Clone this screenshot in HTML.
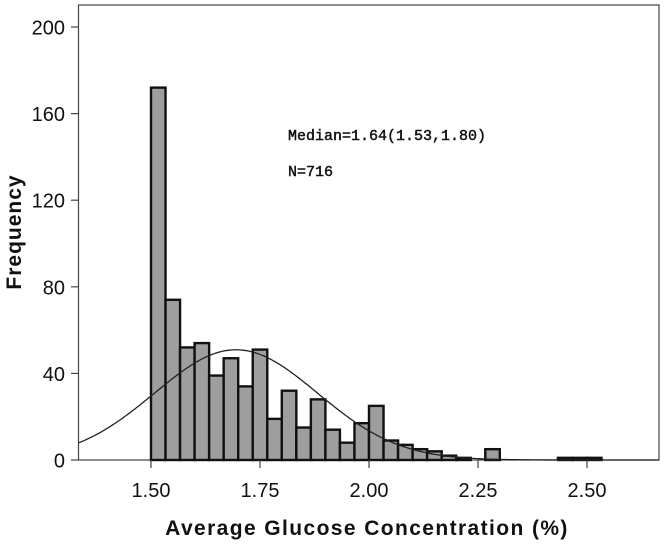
<!DOCTYPE html>
<html><head><meta charset="utf-8"><style>
body{margin:0;background:#fff;}
svg text{font-family:"Liberation Sans",Arial,sans-serif;fill:#111;}
</style></head><body>
<svg id="chart" width="664" height="544">
<rect x="0" y="0" width="664" height="544" fill="#fff"/>
<rect x="78.5" y="5" width="580.5" height="455" fill="#fff" stroke="#444" stroke-width="1.2"/>
<g id="bars"></g>
<path id="curve" fill="none" stroke="#222" stroke-width="1.3"/>
<g id="axes"></g>
<text x="288" y="140" style="font-family:'Liberation Mono',monospace;font-size:15px;stroke:#111;stroke-width:0.45">Median=1.64(1.53,1.80)</text>
<text x="288" y="176" style="font-family:'Liberation Mono',monospace;font-size:15px;stroke:#111;stroke-width:0.45">N=716</text>
<text x="367" y="535" text-anchor="middle" font-weight="bold" font-size="21" letter-spacing="1.4">Average Glucose Concentration (%)</text>
<text transform="translate(21,232) rotate(-90)" text-anchor="middle" font-weight="bold" font-size="21" letter-spacing="1">Frequency</text>
</svg>
<script>
const binStart = 1.5;
const binWidth = 1/30;
const counts = [172,74,52,54,39,47,34,51,19,32,15,28,14,8,17,25,9,7,5,4,2,1,0,5,0,0,0,0,1,1,1];
const yTicks = [0,40,80,120,160,200];
const xTicks = [1.50,1.75,2.00,2.25,2.50];
const xTickLabels = ["1.50","1.75","2.00","2.25","2.50"];
const curveMean = 1.695;
const curveSd = 0.187;
const curveN = 716;

const NS="http://www.w3.org/2000/svg";
function xs(v){return 151+(v-1.5)*436;}
function ys(v){return 460-v*2.165;}
const bars=document.getElementById('bars');
counts.forEach((c,i)=>{
  if(c<=0) return;
  const r=document.createElementNS(NS,'rect');
  const x0=xs(binStart+i*binWidth), x1=xs(binStart+(i+1)*binWidth);
  r.setAttribute('x',x0);r.setAttribute('width',x1-x0);
  r.setAttribute('y',ys(c));r.setAttribute('height',ys(0)-ys(c));
  r.setAttribute('fill','#9e9e9e');r.setAttribute('stroke','#111');r.setAttribute('stroke-width','2.4');
  
  
  bars.appendChild(r);
});
let d='';
for(let px=79;px<=659;px+=2){
  const v=1.5+(px-151)/436;
  const f=curveN*binWidth/(curveSd*Math.sqrt(2*Math.PI))*Math.exp(-0.5*((v-curveMean)/curveSd)**2);
  d+=(d?'L':'M')+px+','+ys(f).toFixed(2);
}
document.getElementById('curve').setAttribute('d',d);
const ax=document.getElementById('axes');
function el(t,a,txt){const e=document.createElementNS(NS,t);for(const k in a)e.setAttribute(k,a[k]);if(txt)e.textContent=txt;ax.appendChild(e);return e;}
yTicks.forEach(v=>{
  const l=el('line',{x1:71,x2:78.5,y1:ys(v),y2:ys(v),stroke:'#444','stroke-width':1.2});
  
  
  const t=el('text',{x:65,y:ys(v)+7.5,'text-anchor':'end','font-size':20},String(v));
  
  
});
xTicks.forEach((v,i)=>{
  const l=el('line',{x1:xs(v),x2:xs(v),y1:460,y2:468,stroke:'#444','stroke-width':1.2});
  
  
  const t=el('text',{x:xs(v),y:497,'text-anchor':'middle','font-size':20},xTickLabels[i]);
  
  
});
</script>
</body></html>
